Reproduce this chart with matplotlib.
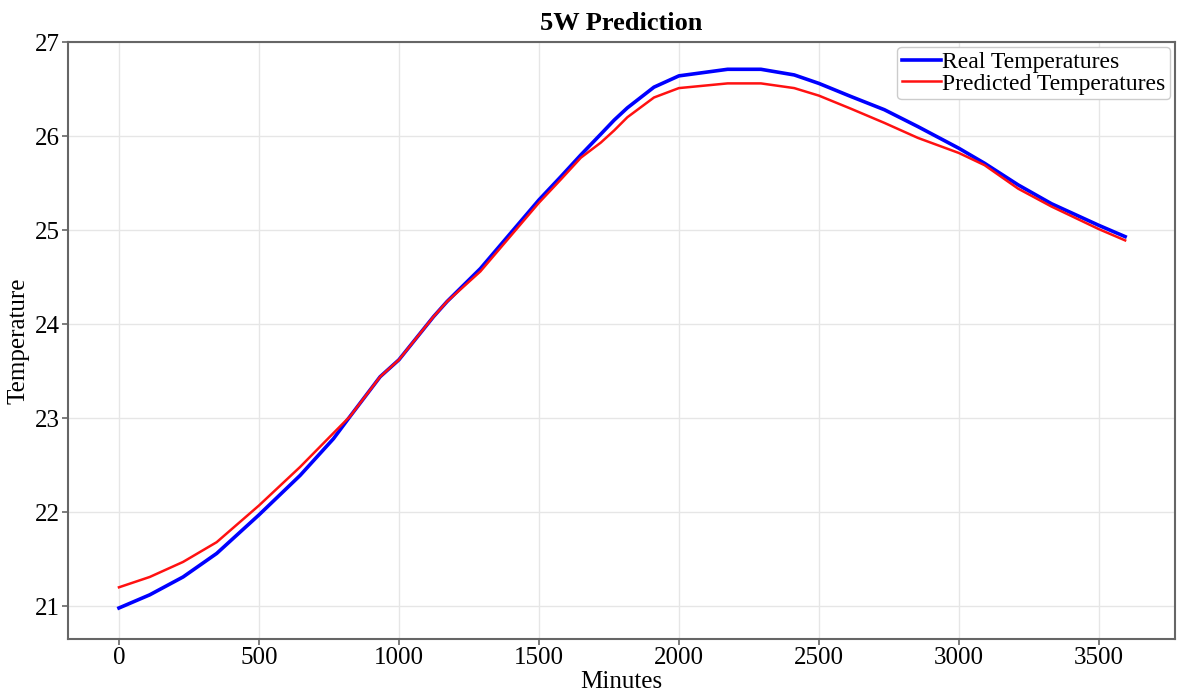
import numpy as np
import matplotlib.pyplot as plt

plt.rcParams['font.family'] = ['Liberation Serif', 'DejaVu Serif']

# values
minutes_real = [0, 110, 229, 349, 500, 647, 766, 826, 933, 1000, 1124, 1172, 1291,
                1500, 1579, 1650, 1721, 1769, 1816, 1911, 2000, 2174, 2293, 2412,
                2500, 2615, 2734, 2854, 3000, 3092, 3212, 3331, 3500, 3594]
temp_real = [20.98, 21.12, 21.31, 21.56, 21.97, 22.39, 22.78, 23.02, 23.44, 23.62,
             24.08, 24.24, 24.59, 25.32, 25.57, 25.80, 26.02, 26.17, 26.30, 26.52,
             26.64, 26.71, 26.71, 26.65, 26.56, 26.42, 26.28, 26.10, 25.87, 25.71,
             25.48, 25.28, 25.05, 24.93]

minutes_pred = [0, 110, 229, 349, 500, 647, 766, 826, 933, 1000, 1124, 1172, 1291,
                1500, 1579, 1650, 1721, 1769, 1816, 1911, 2000, 2174, 2293, 2412,
                2500, 2615, 2734, 2854, 3000, 3092, 3212, 3331, 3500, 3594]
temp_pred = [21.20, 21.31, 21.47, 21.68, 22.07, 22.48, 22.84, 23.02, 23.44, 23.62,
             24.08, 24.24, 24.56, 25.29, 25.54, 25.77, 25.93, 26.06, 26.20, 26.41,
             26.51, 26.56, 26.56, 26.51, 26.43, 26.29, 26.14, 25.98, 25.82, 25.69,
             25.44, 25.25, 25.01, 24.89]

fig = plt.figure(figsize=(11.89, 6.97), dpi=100)
ax = fig.add_axes([0.0572, 0.0832, 0.931, 0.8565])

ax.plot(minutes_real, temp_real, color='#0000ff', linewidth=2.6, label='Real Temperatures', zorder=3)
ax.plot(minutes_pred, temp_pred, color='#ff1111', linewidth=1.8, label='Predicted Temperatures', zorder=4)

ax.set_xlim(-182, 3772)
ax.set_ylim(20.65, 27)
ax.set_xticks(np.arange(0, 3501, 500))
ax.set_yticks(np.arange(21, 28, 1))
ax.grid(True, color='#e6e6e6', linewidth=1.0)
ax.set_axisbelow(True)

for s in ax.spines.values():
    s.set_color('#666666')
    s.set_linewidth(1.5)
ax.tick_params(labelsize=18, color='#666666', length=4, width=1.2, pad=2)

ax.set_title('5W Prediction', fontsize=19, fontweight='bold', pad=9)
ax.set_xlabel('Minutes', fontsize=18, labelpad=1)
ax.set_ylabel('Temperature', fontsize=18, labelpad=4)

leg = ax.legend(loc='upper right', fontsize=17, handlelength=1.65, handletextpad=0.05,
                borderpad=0.2, labelspacing=0.0, borderaxespad=0.2, frameon=True,
                fancybox=True, edgecolor='#cccccc', framealpha=1.0)

fig.savefig('out.png', dpi=100)
